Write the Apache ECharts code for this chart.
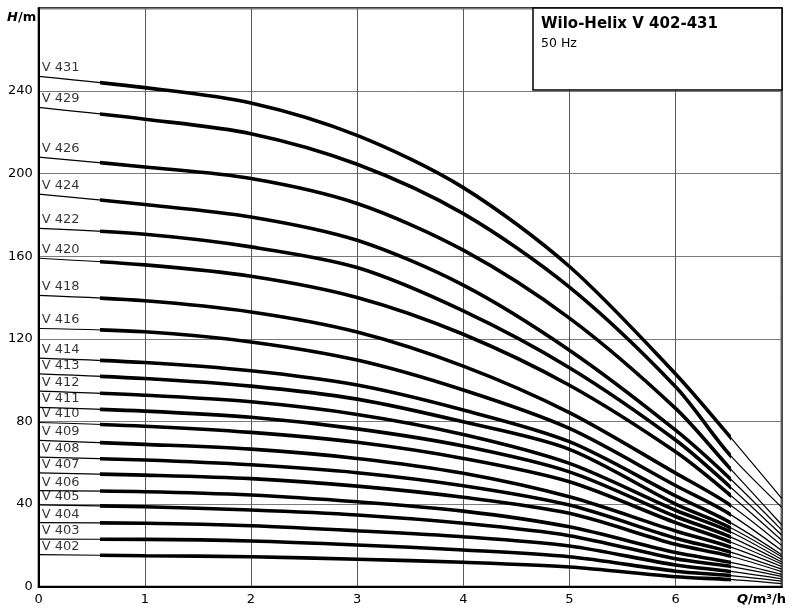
<!DOCTYPE html>
<html>
<head>
<meta charset="utf-8">
<title>Wilo-Helix V 402-431</title>
<script src="https://cdn.jsdelivr.net/npm/echarts@6/dist/echarts.min.js"></script>
<style>
  html, body { margin: 0; padding: 0; background: #fff; }
  #chart { width: 800px; height: 610px; }
</style>
</head>
<body>
<div id="chart"></div>
<script>
// flow points (Q, m3/h) where the curves were read
const flowQ = [0, 1, 2, 3, 4, 5, 6, 6.5, 7];

const pumpNames = ['V 402', 'V 403', 'V 404', 'V 405', 'V 406', 'V 407', 'V 408', 'V 409', 'V 410',
  'V 411', 'V 412', 'V 413', 'V 414', 'V 416', 'V 418', 'V 420', 'V 422', 'V 424', 'V 426', 'V 429', 'V 431'];

// head (H, m) at each flow point
const hV402 = [15.5, 15, 14.5, 13.3, 11.8, 9.5, 4.8, 3.5, 1.5];
const hV403 = [23, 22.9, 22.1, 20.2, 17.8, 14.5, 7.5, 5.5, 2.7];
const hV404 = [31, 30.7, 29.5, 27.1, 24.2, 19.7, 10.5, 7.5, 3.8];
const hV405 = [39.6, 38.7, 37.1, 34.7, 30.7, 24.7, 13.5, 10, 5];
const hV406 = [46.5, 46, 44.4, 41.1, 36.6, 29, 16.5, 12, 6];
const hV407 = [55.1, 54, 52.3, 48.7, 43.3, 35.5, 20.5, 15, 7.3];
const hV408 = [62.7, 61.3, 59, 55.2, 48.9, 39.5, 23.5, 17, 8.5];
const hV409 = [70.8, 68.9, 66.6, 62.1, 54.9, 43.5, 27, 19.5, 9.8];
const hV410 = [79.5, 77.7, 74.7, 69.9, 62.1, 50.8, 31, 22, 11];
const hV411 = [86.8, 85, 82, 76.4, 68.1, 55.6, 34, 24.5, 12];
const hV412 = [94.7, 92.7, 89.5, 83.4, 73.7, 59.7, 37, 27, 13.2];
const hV413 = [103, 100.8, 97.1, 90.8, 79.8, 66.5, 40, 29, 14.5];
const hV414 = [110.7, 108.5, 104.5, 97.6, 85.5, 70.2, 44, 31.5, 15.5];
const hV416 = [125, 123.4, 118.5, 109.7, 95.2, 76.6, 49, 35.5, 17.5];
const hV418 = [141, 138.4, 133, 123.3, 106.8, 84.3, 55, 40, 20];
const hV420 = [159, 155.8, 150.3, 140, 122.2, 97.5, 65.3, 45, 22.5];
const hV422 = [173.5, 170.6, 164.5, 154.5, 133.5, 106, 71, 49, 25];
const hV424 = [190, 185, 179, 167.7, 146, 114.5, 75.8, 53, 27.5];
const hV426 = [208, 203.2, 197.6, 185.5, 162.9, 130, 86.3, 58, 30];
const hV429 = [232, 226.3, 219.3, 204.5, 180.6, 145, 96.8, 64.5, 38.4];
const hV431 = [247, 241.6, 234.2, 218.5, 193.2, 155, 103, 73.4, 42.8];

const headCurves = [hV402, hV403, hV404, hV405, hV406, hV407, hV408, hV409, hV410, hV411,
  hV412, hV413, hV414, hV416, hV418, hV420, hV422, hV424, hV426, hV429, hV431];

// axis ranges / ticks
const qMax = 7, hMax = 280, hStep = 40;
// the thick (working) part of each curve
const workFrom = 0.6, workTo = 6.5;

const FONT = 'DejaVu Sans';
const gLeft = 38.7, gRight = 18.3, gTop = 8.3, gBottom = 23.3;
const pxPerQ = (800 - gLeft - gRight) / qMax;
const SMOOTH = 0.3;

let chart = echarts.init(document.getElementById('chart'));

const series = [];
headCurves.forEach((h, i) => {
  const pts = flowQ.map((q, k) => [q, h[k]]);
  series.push({
    name: pumpNames[i], type: 'line', xAxisIndex: 0, yAxisIndex: 0,
    data: pts, smooth: SMOOTH, showSymbol: false, symbol: 'none', silent: true,
    lineStyle: { color: '#000', width: 1.2 }
  });
  series.push({
    name: pumpNames[i] + ' work', type: 'line', xAxisIndex: 1, yAxisIndex: 1,
    data: pts, smooth: SMOOTH, showSymbol: false, symbol: 'none', silent: true, clip: true,
    lineStyle: { color: '#000', width: 3.6 }
  });
});

// curve names written above the start of each curve
series.push({
  type: 'scatter', xAxisIndex: 0, yAxisIndex: 0, symbolSize: 0, silent: true, z: 5,
  data: headCurves.map((h, i) => ({ value: [flowQ[0], h[0]], name: pumpNames[i] })),
  label: {
    show: true, position: [3, -15], formatter: p => p.name,
    fontFamily: FONT, fontSize: 13, color: '#000'
  }
});

const option = {
  animation: false,
  backgroundColor: '#fff',
  grid: [
    { left: gLeft, right: gRight, top: gTop, bottom: gBottom, show: true, borderColor: '#000', borderWidth: 2 },
    { left: gLeft + workFrom * pxPerQ, right: 800 - gLeft - workTo * pxPerQ, top: gTop, bottom: gBottom }
  ],
  xAxis: [
    {
      gridIndex: 0, type: 'value', min: 0, max: qMax, interval: 1,
      axisLine: { lineStyle: { color: '#000', width: 2 } },
      axisTick: { show: false },
      axisLabel: { showMaxLabel: false, color: '#000', fontFamily: FONT, fontSize: 13, margin: 6 },
      splitLine: { lineStyle: { color: '#5a5a5a', width: 1 } }
    },
    { gridIndex: 1, type: 'value', min: workFrom, max: workTo, show: false, splitLine: { show: false } }
  ],
  yAxis: [
    {
      gridIndex: 0, type: 'value', min: 0, max: hMax, interval: hStep,
      axisLine: { lineStyle: { color: '#000', width: 2 } },
      axisTick: { show: false },
      axisLabel: { showMaxLabel: false, color: '#000', fontFamily: FONT, fontSize: 13, margin: 6 },
      splitLine: { lineStyle: { color: '#7a7a7a', width: 1 } }
    },
    { gridIndex: 1, type: 'value', min: 0, max: hMax, show: false, splitLine: { show: false } }
  ],
  graphic: [
    {
      type: 'rect', z: 100,
      shape: { x: 533, y: 8, width: 249, height: 82 },
      style: { fill: '#fff', stroke: '#000', lineWidth: 1.5 }
    },
    {
      type: 'text', z: 101, x: 541, y: 24,
      style: { text: 'Wilo-Helix V 402-431', fontFamily: FONT, fontSize: 15, fontWeight: 'bold', fill: '#000', verticalAlign: 'middle' }
    },
    {
      type: 'text', z: 101, x: 541, y: 44,
      style: { text: '50 Hz', fontFamily: FONT, fontSize: 12.5, fill: '#000', verticalAlign: 'middle' }
    },
    {
      type: 'text', z: 101, x: 7, y: 18,
      style: {
        text: '{a|H}{b|/m}', verticalAlign: 'middle',
        rich: {
          a: { fontFamily: FONT, fontSize: 13, fontWeight: 'bold', fontStyle: 'italic', fill: '#000' },
          b: { fontFamily: FONT, fontSize: 13, fontWeight: 'bold', fill: '#000' }
        }
      }
    },
    {
      type: 'text', z: 101, x: 786, y: 600,
      style: {
        text: '{a|Q}{b|/m³/h}', align: 'right', verticalAlign: 'middle',
        rich: {
          a: { fontFamily: FONT, fontSize: 13, fontWeight: 'bold', fontStyle: 'italic', fill: '#000' },
          b: { fontFamily: FONT, fontSize: 13, fontWeight: 'bold', fill: '#000' }
        }
      }
    }
  ],
  series: series
};
chart.setOption(option);
</script>
</body>
</html>
